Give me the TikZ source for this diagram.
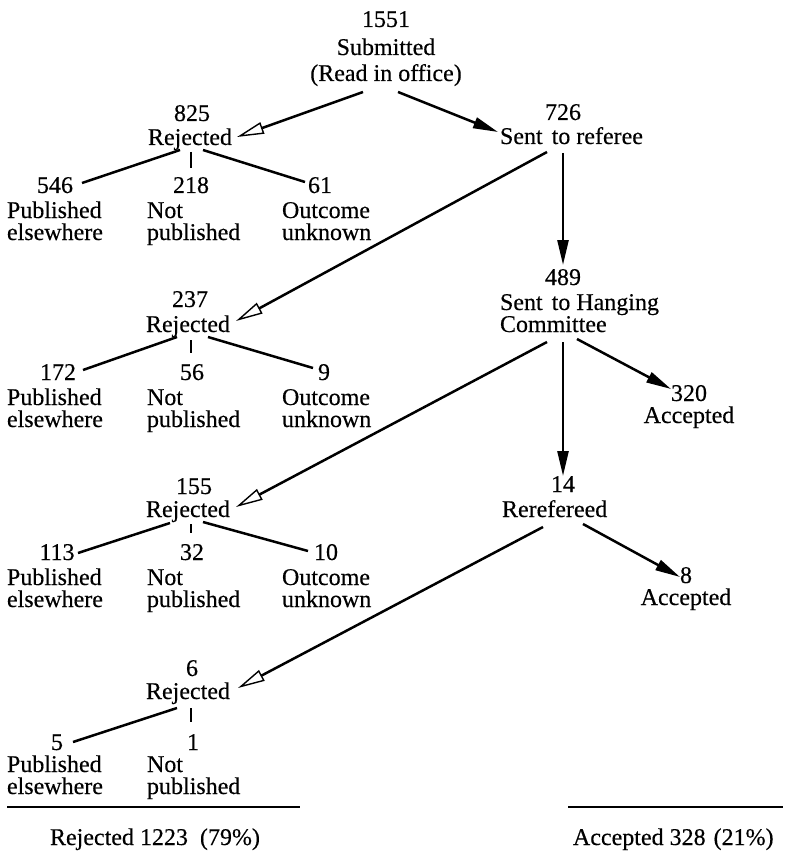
\documentclass[tikz,border=0pt]{standalone}
\usepackage{fontspec}
\setmainfont{Liberation Serif}[FakeBold=0.35]
\usetikzlibrary{arrows.meta,calc}
\newcommand{\twoln}[2]{\vtop{\baselineskip=22pt\lineskiplimit=-\maxdimen\hbox{#1}\hbox{#2}}}
\newcommand{\ctwoln}[3]{\vtop{\baselineskip=#3\lineskiplimit=-\maxdimen\halign{\hfil##\hfil\cr #1\cr #2\cr}}}
\begin{document}
\begin{tikzpicture}[x=1pt,y=-1pt,
  txt/.style={inner sep=0pt,outer sep=0pt,font=\fontsize{24}{24}\selectfont\addfontfeatures{FakeBold=0.35},anchor=base},
  lt/.style={txt,anchor=base west},
  conn/.style={line width=2.5pt},
  fa/.style={conn,-{Triangle[length=25pt,width=11pt]}},
  oa/.style={conn,-{Triangle[open,length=27pt,width=12pt,line width=1.4pt]}},
  rulebar/.style={line width=1.8pt}]
\useasboundingbox (0,0) rectangle (788,853);

% top
\node[txt] (top1) at (386,27) {1551};
\node[txt] (top2) at (386,55) {Submitted};
\node[txt] (top3) at (386,81) {(Read in office)};

% first rejected block
\node[txt] (n825) at (192,121) {825};
\node[txt] (r825) at (190,145) {Rejected};
\node[txt] (n546) at (55,193) {546};
\node[lt] (pub1) at (7,218) {\twoln{Published}{elsewhere}};
\node[txt] (n218) at (191,193) {218};
\node[lt] (not1) at (147,218) {\twoln{Not}{published}};
\node[txt] (n61) at (320,193) {61};
\node[lt] (out1) at (282,218) {\twoln{Outcome}{unknown}};

% sent to referee
\node[txt] (n726) at (563,120) {726};
\node[lt] (sref) at (500,144) {Sent\hspace{3pt} to referee};

% second rejected block
\node[txt] (n237) at (190,307) {237};
\node[txt] (r237) at (188,332) {Rejected};
\node[txt] (n172) at (58,380) {172};
\node[lt] (pub2) at (7,405) {\twoln{Published}{elsewhere}};
\node[txt] (n56) at (192,380) {56};
\node[lt] (not2) at (147,405) {\twoln{Not}{published}};
\node[txt] (n9) at (324,380) {9};
\node[lt] (out2) at (282,405) {\twoln{Outcome}{unknown}};

% hanging committee
\node[txt] (n489) at (563,285) {489};
\node[lt] (shc) at (500,310) {\twoln{Sent\hspace{3pt} to Hanging}{Committee}};
\node[txt] (n320) at (689,401) {\ctwoln{320}{Accepted}{22pt}};

% third rejected block
\node[txt] (n155) at (194,494) {155};
\node[txt] (r155) at (188,517) {Rejected};
\node[txt] (n113) at (57,560) {113};
\node[lt] (pub3) at (7,585) {\twoln{Published}{elsewhere}};
\node[txt] (n32) at (192,560) {32};
\node[lt] (not3) at (147,585) {\twoln{Not}{published}};
\node[txt] (n10) at (326,560) {10};
\node[lt] (out3) at (282,585) {\twoln{Outcome}{unknown}};

% rerefereed
\node[txt] (n14) at (563,492) {14};
\node[lt] (reref) at (502,517) {Rerefereed};
\node[txt] (n8) at (686,583) {\ctwoln{8}{Accepted}{22pt}};

% fourth rejected block
\node[txt] (n6) at (192,676) {6};
\node[txt] (r6) at (188,699) {Rejected};
\node[txt] (n5) at (57,750) {5};
\node[lt] (pub4) at (7,772) {\twoln{Published}{elsewhere}};
\node[txt] (n1) at (193,750) {1};
\node[lt] (not4) at (147,772) {\twoln{Not}{published}};

% totals
\draw[rulebar] (7,807) -- (300,807);
\node[lt] (totrej) at (50,845) {Rejected 1223\hspace{12pt}(79\%)};
\draw[rulebar] (568,807) -- (783,807);
\node[lt] (totacc) at (573,845) {Accepted 328\hspace{8pt}(21\%)};

% connectors
\draw[oa] ($(top3.base)+(-23,11)$) -- ($(r825.base)+(47,-8)$);
\draw[fa] ($(top3.base)+(12,11)$) -- ($(sref.base west)+(-2,-12)$);
\draw[conn] ($(r825.base)+(-10,5)$) -- ($(n546.base)+(27,-10)$);
\draw[conn] ($(r825.base)+(1,7)$) -- ($(n218.base)+(0,-25)$);
\draw[conn] ($(r825.base)+(13,5)$) -- ($(n61.base)+(-15,-11)$);

\draw[oa] ($(sref.base west)+(47,8)$) -- ($(r237.base)+(48,-11)$);
\draw[fa] ($(sref.base west)+(63,9)$) -- ($(n489.base)+(0,-20)$);
\draw[conn] ($(r237.base)+(-11,5)$) -- ($(n172.base)+(25,-10)$);
\draw[conn] ($(r237.base)+(3,8)$) -- ($(n56.base)+(-1,-27)$);
\draw[conn] ($(r237.base)+(20,5)$) -- ($(n9.base)+(-11,-12)$);

\draw[oa] ($(shc.base west)+(47,32)$) -- ($(r155.base)+(48,-10)$);
\draw[fa] ($(shc.base west)+(63,32)$) -- ($(n14.base)+(0,-16)$);
\draw[fa] ($(shc.base west)+(77,29)$) -- ($(n320.base)+(-18,-12)$);
\draw[conn] ($(r155.base)+(-18,6)$) -- ($(n113.base)+(21,-7)$);
\draw[conn] ($(r155.base)+(3,7)$) -- ($(n32.base)+(-1,-27)$);
\draw[conn] ($(r155.base)+(15,5)$) -- ($(n10.base)+(-18,-9)$);

\draw[oa] ($(reref.base west)+(41,10)$) -- ($(r6.base)+(50,-11)$);
\draw[fa] ($(reref.base west)+(81,7)$) -- ($(n8.base)+(-6,-6)$);
\draw[conn] ($(r6.base)+(-11,9)$) -- ($(n5.base)+(16,-8)$);
\draw[conn] ($(r6.base)+(3,9)$) -- ($(n1.base)+(-2,-28)$);
\end{tikzpicture}
\end{document}
